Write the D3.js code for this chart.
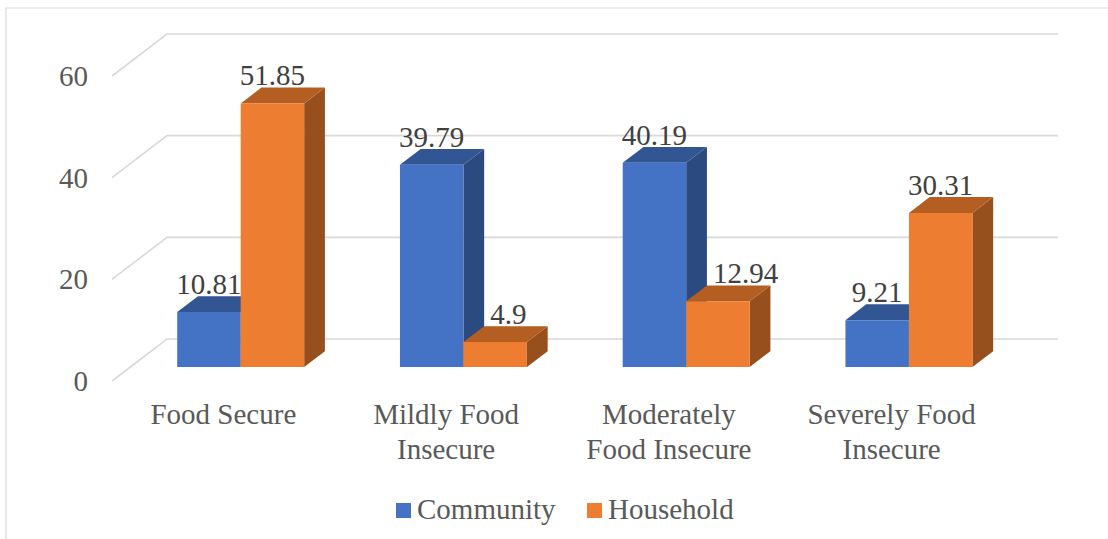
<!DOCTYPE html>
<html>
  <head>
    <meta charset="utf-8" />
    <title>Food Security 3D Bar Chart</title>
    <style>
      body { margin: 0; background: #fff; }
      svg { display: block; }
    </style>
  </head>
  <body>
    <svg id="chart" width="1108" height="539"></svg>
    <script src="https://d3js.org/d3.v7.min.js"></script>
    <script>
      // Chart data
      var categories = [
        ["Food Secure"],
        ["Mildly Food", "Insecure"],
        ["Moderately", "Food Insecure"],
        ["Severely Food", "Insecure"]
      ];
      var seriesNames = ["Community", "Household"];
      var community = [10.81, 39.79, 40.19, 9.21];
      var household = [51.85, 4.9, 12.94, 30.31];
      var yTicks = [0, 20, 40, 60];

      var svg = d3.select("#chart");
      var font = "Liberation Serif";
      var fontSize = 29;

      // depth offset for the fake 3d (full depth = back wall)
      var depthX = 55, depthY = -42;
      var barFront = 0.333, barBack = 0.71;

      var catKeys = categories.map(function (c) { return c.join(" "); });

      var xScale = d3.scaleBand()
        .domain(catKeys)
        .range([111, 1002])
        .paddingInner(0.43)
        .paddingOuter(0.215);

      var xSub = d3.scaleBand()
        .domain(seriesNames)
        .range([0, xScale.bandwidth()]);

      var yScale = d3.scaleLinear().domain([0, 60]).range([381, 76]);

      function proj(x, v, d) {
        return [x + depthX * d, yScale(v) + depthY * d];
      }

      // outer frame
      svg.append("path")
        .attr("d", "M6,539 L6,8 L1108,8")
        .attr("fill", "none")
        .attr("stroke", "#d9d9d9")
        .attr("stroke-width", 1.2);

      // gridlines: floor-side diagonal then back wall
      var grid = svg.append("g");
      yTicks.forEach(function (t) {
        var a = proj(112, t, 0);
        var b = proj(112, t, 1);
        var c = proj(1003, t, 1);
        grid.append("path")
          .attr("d", "M" + a + "L" + b + "L" + c)
          .attr("fill", "none")
          .attr("stroke", "#d9d9d9")
          .attr("stroke-width", 1.6);
      });

      // y tick labels
      svg.append("g")
        .selectAll("text")
        .data(yTicks)
        .join("text")
        .attr("x", 88)
        .attr("y", function (d) { return yScale(d) + 10; })
        .attr("text-anchor", "end")
        .attr("font-family", font)
        .attr("font-size", fontSize)
        .attr("fill", "#595959")
        .text(function (d) { return d; });

      var colors = {
        Community: { front: "#4472c4", top: "#325694", side: "#2b4a80" },
        Household: { front: "#ed7d31", top: "#b55e22", side: "#974f1d" }
      };

      var rows = [];
      catKeys.forEach(function (k, i) {
        rows.push({ cat: k, series: "Community", value: community[i], other: household[i] });
        rows.push({ cat: k, series: "Household", value: household[i], other: community[i] });
      });

      function poly(pts) {
        return "M" + pts.map(function (p) { return p.join(","); }).join("L") + "Z";
      }

      // Draw bars
      var bars = svg.append("g");
      rows.forEach(function (d) {
        var x0 = xScale(d.cat) + xSub(d.series);
        var x1 = x0 + xSub.bandwidth();
        var c = colors[d.series];
        var g = bars.append("g");

        var fl = proj(x0, d.value, barFront), fr = proj(x1, d.value, barFront);
        var bl = proj(x0, d.value, barBack), br = proj(x1, d.value, barBack);
        var fr0 = proj(x1, 0, barFront), br0 = proj(x1, 0, barBack);
        var fl0 = proj(x0, 0, barFront);

        // side face
        g.append("path")
          .attr("d", poly([fr, br, br0, fr0]))
          .attr("fill", c.side);
        // top face
        g.append("path")
          .attr("d", poly([fl, fr, br, bl]))
          .attr("fill", c.top);
        // front face
        g.append("path")
          .attr("d", poly([fl, fr, fr0, fl0]))
          .attr("fill", c.front);

        // value label
        var label = g.append("text")
          .attr("x", (fl[0] + fr[0]) / 2)
          .attr("y", fl[1] - 18)
          .attr("text-anchor", "middle")
          .attr("font-family", font)
          .attr("font-size", fontSize)
          .attr("fill", "#404040")
          .text(d.value);

        // push the label off the taller neighbour's side face
        if (d.series === "Household" && d.other > d.value) {
          var w = label.node().getComputedTextLength();
          var minX = bl[0] - fl[0] + fl[0] + 6 + w / 2;
          if (minX > (fl[0] + fr[0]) / 2) label.attr("x", minX);
        }
      });

      // category labels
      var xLabels = svg.append("g");
      categories.forEach(function (lines, i) {
        var cx = xScale(catKeys[i]) + xScale.bandwidth() / 2 + 1;
        var t = xLabels.append("text")
          .attr("text-anchor", "middle")
          .attr("font-family", font)
          .attr("font-size", fontSize)
          .attr("fill", "#595959");
        lines.forEach(function (line, j) {
          t.append("tspan")
            .attr("x", cx)
            .attr("y", 424 + j * 35)
            .text(line);
        });
      });

      // Legend
      var legend = svg.append("g");
      var legendX = [396, 587];
      seriesNames.forEach(function (s, i) {
        legend.append("rect")
          .attr("x", legendX[i])
          .attr("y", 503)
          .attr("width", 15)
          .attr("height", 15)
          .attr("fill", colors[s].front);
        legend.append("text")
          .attr("x", legendX[i] + 21)
          .attr("y", 519)
          .attr("font-family", font)
          .attr("font-size", fontSize)
          .attr("fill", "#595959")
          .text(s);
      });
    </script>
  </body>
</html>
